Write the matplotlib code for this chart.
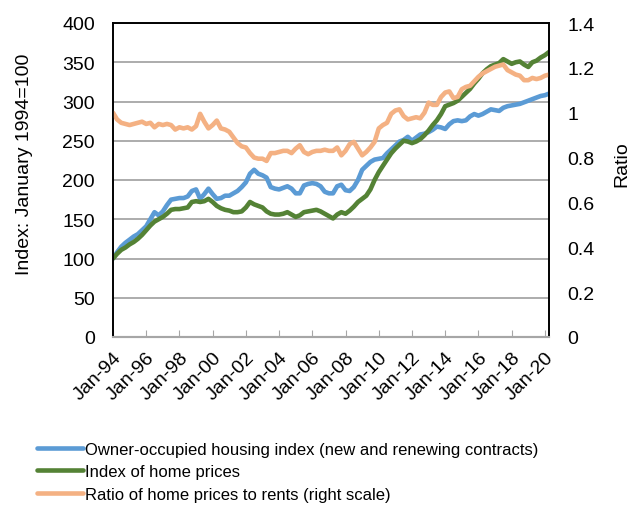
import numpy as np
import pandas as pd
import matplotlib
matplotlib.use("Agg")
import matplotlib.pyplot as plt
import matplotlib.dates as mdates

plt.rcParams['font.family'] = ['Liberation Sans', 'DejaVu Sans']

#------------------values (quarterly, Jan-94 .. Apr-20)----------
dates = pd.date_range("1994-01-01", periods=106, freq="QS")

owner_occupied = [
    100, 108, 115, 120, 124, 128, 131, 136, 141, 150, 159, 155, 160, 168, 175, 176,
    177, 177, 179, 186, 188, 176, 182, 189, 182, 176, 177, 180, 180, 183, 186, 191,
    197, 208, 213, 208, 206, 203, 191, 189, 188, 190, 192, 189, 183, 183, 193, 195,
    196, 195, 192, 185, 183, 183, 192, 194, 187, 186, 191, 200, 213, 218, 223, 226,
    227, 228, 234, 239, 244, 249, 251, 255, 250, 254, 258, 259, 261, 264, 268, 267,
    265, 271, 275, 276, 275, 276, 281, 284, 282, 284, 287, 290, 289, 288, 292, 294,
    295, 296, 297, 299, 301, 303, 305, 307, 308, 310]

home_prices = [
    100, 106, 111, 114, 118, 121, 125, 130, 136, 142, 147, 150, 153, 157, 162, 163,
    163, 164, 165, 172, 173, 172, 173, 176, 172, 167, 164, 162, 161, 159, 159, 160,
    165, 172, 169, 167, 165, 160, 157, 156, 156, 157, 159, 156, 153, 155, 159, 160,
    161, 162, 160, 157, 154, 151, 156, 159, 157, 161, 166, 172, 176, 180, 188, 200,
    210, 218, 226, 234, 240, 245, 250, 249, 247, 249, 252, 257, 263, 270, 276, 284,
    294, 296, 298, 301, 306, 311, 316, 323, 329, 336, 341, 345, 347, 349, 354, 351,
    348, 350, 351, 347, 344, 350, 352, 356, 359, 363]

price_rent_ratio = [
    1.00, 0.97, 0.955, 0.95, 0.945, 0.95, 0.955, 0.96, 0.95, 0.955, 0.935, 0.95,
    0.945, 0.95, 0.945, 0.925, 0.935, 0.93, 0.935, 0.925, 0.94, 0.995, 0.96, 0.93,
    0.945, 0.965, 0.93, 0.925, 0.915, 0.89, 0.865, 0.85, 0.845, 0.82, 0.80, 0.795,
    0.795, 0.785, 0.82, 0.82, 0.825, 0.83, 0.83, 0.82, 0.84, 0.855, 0.825, 0.815,
    0.825, 0.83, 0.83, 0.835, 0.83, 0.83, 0.845, 0.81, 0.83, 0.86, 0.87, 0.84,
    0.81, 0.825, 0.845, 0.87, 0.93, 0.945, 0.955, 0.995, 1.01, 1.015, 0.985, 0.97,
    0.975, 0.98, 0.975, 1.0, 1.045, 1.035, 1.035, 1.07, 1.09, 1.095, 1.065, 1.07,
    1.105, 1.115, 1.12, 1.14, 1.16, 1.175, 1.185, 1.195, 1.205, 1.21, 1.215, 1.19,
    1.18, 1.17, 1.165, 1.145, 1.145, 1.155, 1.15, 1.155, 1.165, 1.17]

left_ticks = [0, 50, 100, 150, 200, 250, 300, 350, 400]
right_ticks = [0, 0.2, 0.4, 0.6, 0.8, 1.0, 1.2, 1.4]
right_labels = ["0", "0.2", "0.4", "0.6", "0.8", "1", "1.2", "1.4"]

blue = '#5B9BD5'
green = '#548235'
orange = '#F4B183'

#------------------------------figure-----------------------------------------
fig = plt.figure(figsize=(6.3, 5.06), dpi=100)
ax = fig.add_axes([113/630, 1 - 338/506, 436/630, 314/506])
ax2 = ax.twinx()

ax.plot(dates, owner_occupied, color=blue, lw=3.3, solid_capstyle='round',
        label='Owner-occupied housing index (new and renewing contracts)')
ax.plot(dates, home_prices, color=green, lw=3.3, solid_capstyle='round',
        label='Index of home prices')
ax2.plot(dates, price_rent_ratio, color=orange, lw=3.3, solid_capstyle='round',
         label='Ratio of home prices to rents (right scale)')

ax.set_xlim(dates[0], dates[-1])
ax.set_ylim(0, 400)
ax2.set_ylim(0, 1.4)
ax.set_yticks(left_ticks)
ax2.set_yticks(right_ticks)
ax2.set_yticklabels(right_labels)

ax.grid(axis='y', color='#A6A6A6', lw=1.3)
ax.set_axisbelow(True)

ax.xaxis.set_major_locator(mdates.YearLocator(2, month=1, day=1))
ax.xaxis.set_major_formatter(mdates.DateFormatter('%b-%y'))
for lab in ax.get_xticklabels():
    lab.set_rotation(45)
    lab.set_ha('right')
    lab.set_va('top')
    lab.set_rotation_mode('anchor')

ax.tick_params(axis='x', direction='in', length=5, color='#A6A6A6', labelsize=14, pad=8)
ax.tick_params(axis='y', length=0, labelsize=14, pad=13)
ax2.tick_params(axis='y', length=0, labelsize=14, pad=13)

for a in (ax, ax2):
    for s in a.spines.values():
        s.set_color('black')
        s.set_linewidth(1.2)
    a.spines['bottom'].set_color('#A6A6A6')
    a.spines['bottom'].set_linewidth(1.5)

fig.text(25/630, 1 - 164/506, 'Index: January 1994=100', rotation=90,
         ha='center', va='center', fontsize=14)
fig.text(622/630, 1 - 164/506, 'Ratio', rotation=90,
         ha='center', va='center', fontsize=14)

h1, l1 = ax.get_legend_handles_labels()
h2, l2 = ax2.get_legend_handles_labels()
fig.legend(h1 + h2, l1 + l2, loc='upper left', bbox_to_anchor=(30/630, 1 - 436/506),
           frameon=False, fontsize=12, handlelength=2.8, handletextpad=0.1,
           labelspacing=0.45, borderaxespad=0)

fig.savefig('out.png', dpi=100)
